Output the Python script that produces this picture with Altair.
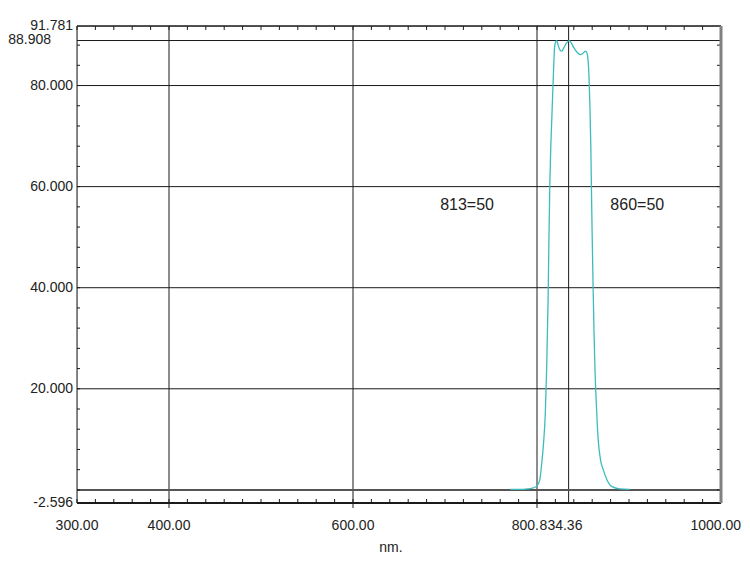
import altair as alt
import pandas as pd

# ---- data ----
wl = [771, 780, 790, 796, 800, 803, 805, 807, 809, 810.5, 812, 813, 814, 815, 816, 817, 818, 819, 820,
      821.5, 823, 825, 827, 829, 832, 835, 837, 840, 844, 847, 850, 853, 854.5, 855.5, 856.5, 857.5,
      858.5, 859.3, 860, 861, 862, 863, 864.5, 866.5, 869, 872, 876, 881, 890, 901]
trans = [0.1, 0.1, 0.2, 0.4, 0.8, 2, 5, 9, 15, 24, 37, 50, 61, 68, 73, 78, 83, 87.3, 88.5,
         88.9, 88.0, 87.0, 86.8, 87.4, 88.4, 88.9, 88.5, 87.5, 86.5, 86.1, 86.4, 86.8, 86.3, 85.0, 82, 76,
         68, 58, 50, 40, 31, 24, 17, 10, 6, 4, 2, 0.7, 0.2, 0.1]

x_min, x_max = 300, 1000
y_min, y_max = -2.596, 91.781

v_grid = [400, 600, 800, 834.36]
v_grid_ext = [400, 600, 800]
h_grid = [88.908, 80, 60, 40, 20]
zero_line = [0]
x_minor = list(range(300, 1001, 20))
y_minor = list(range(0, 89, 4))

y_lab_vals = [91.781, 80, 60, 40, 20, -2.596]
y_lab_text = ["91.781", "80.000", "60.000", "40.000", "20.000", "-2.596"]
y_lab2_vals = [88.908]
y_lab2_text = ["88.908"]

x_lab_vals = [300, 400, 600]
x_lab_text = ["300.00", "400.00", "600.00"]
x_labL_vals = [800]
x_labL_text = ["800."]
x_labR_vals = [834.36]
x_labR_text = ["834.36"]
x_labEnd_vals = [1000]
x_labEnd_text = ["1000.00"]

ann_x = [724, 909]
ann_y = [56.4, 56.4]
ann_text = ["813=50", "860=50"]

W, H = 644, 477
FONT = "Liberation Sans, Arial, sans-serif"

xs = alt.Scale(domain=[x_min, x_max], nice=False, zero=False)
ys = alt.Scale(domain=[y_min, y_max], nice=False, zero=False)
X = lambda f: alt.X(f, type="quantitative", scale=xs, axis=None)
Y = lambda f: alt.Y(f, type="quantitative", scale=ys, axis=None)

curve = pd.DataFrame({"wl": wl, "t": trans})

vg = alt.Chart(pd.DataFrame({"x": v_grid})).mark_rule(color="#1a1a1a", strokeWidth=1).encode(
    x=X("x"), y=alt.value(0), y2=alt.value(H))
vg_ext = alt.Chart(pd.DataFrame({"x": v_grid_ext})).mark_rule(color="#1a1a1a", strokeWidth=1).encode(
    x=X("x"), y=alt.value(H), y2=alt.value(H + 5))
hg = alt.Chart(pd.DataFrame({"y": h_grid})).mark_rule(color="#1a1a1a", strokeWidth=1).encode(
    y=Y("y"), x=alt.value(0), x2=alt.value(W))
zl = alt.Chart(pd.DataFrame({"y": zero_line})).mark_rule(color="#555555", strokeWidth=2).encode(
    y=Y("y"), x=alt.value(0), x2=alt.value(W))

xt_bot = alt.Chart(pd.DataFrame({"x": x_minor})).mark_rule(color="#1a1a1a").encode(
    x=X("x"), y=alt.value(H - 4), y2=alt.value(H))
xt_top = alt.Chart(pd.DataFrame({"x": x_minor})).mark_rule(color="#1a1a1a").encode(
    x=X("x"), y=alt.value(0), y2=alt.value(4))
yt_l = alt.Chart(pd.DataFrame({"y": y_minor})).mark_rule(color="#1a1a1a").encode(
    y=Y("y"), x=alt.value(0), x2=alt.value(3))
yt_r = alt.Chart(pd.DataFrame({"y": y_minor})).mark_rule(color="#1a1a1a").encode(
    y=Y("y"), x=alt.value(W - 4), x2=alt.value(W))

line = alt.Chart(curve).mark_line(color="#3cbcbc", strokeWidth=1.3, interpolate="monotone").encode(
    x=X("wl"), y=Y("t"))

# frame
f_left = alt.Chart(pd.DataFrame({"a": [0]})).mark_rule(color="#1a1a1a", strokeWidth=1).encode(
    x=alt.value(0), y=alt.value(0), y2=alt.value(H))
f_top = alt.Chart(pd.DataFrame({"a": [0]})).mark_rule(color="#1a1a1a", strokeWidth=1.5).encode(
    y=alt.value(0), x=alt.value(0), x2=alt.value(W))
f_bot = alt.Chart(pd.DataFrame({"a": [0]})).mark_rule(color="#1a1a1a", strokeWidth=2).encode(
    y=alt.value(H), x=alt.value(0), x2=alt.value(W))
f_right = alt.Chart(pd.DataFrame({"a": [0]})).mark_rule(color="#808080", strokeWidth=3).encode(
    x=alt.value(W), y=alt.value(0), y2=alt.value(H))

txt = dict(font=FONT, fontSize=14, color="#222222", baseline="middle")

ylab = alt.Chart(pd.DataFrame({"y": y_lab_vals, "t": y_lab_text})).mark_text(align="right", **txt).encode(
    y=Y("y"), x=alt.value(-4), text="t:N")
ylab2 = alt.Chart(pd.DataFrame({"y": y_lab2_vals, "t": y_lab2_text})).mark_text(align="right", dy=-1, **txt).encode(
    y=Y("y"), x=alt.value(-26), text="t:N")

xlab = alt.Chart(pd.DataFrame({"x": x_lab_vals, "t": x_lab_text})).mark_text(align="center", **txt).encode(
    x=X("x"), y=alt.value(H + 23), text="t:N")
xlabL = alt.Chart(pd.DataFrame({"x": x_labL_vals, "t": x_labL_text})).mark_text(align="right", dx=2, **txt).encode(
    x=X("x"), y=alt.value(H + 23), text="t:N")
xlabR = alt.Chart(pd.DataFrame({"x": x_labR_vals, "t": x_labR_text})).mark_text(align="left", dx=-29, **txt).encode(
    x=X("x"), y=alt.value(H + 23), text="t:N")
xlabEnd = alt.Chart(pd.DataFrame({"x": x_labEnd_vals, "t": x_labEnd_text})).mark_text(align="right", dx=20, **txt).encode(
    x=X("x"), y=alt.value(H + 23), text="t:N")

xtitle = alt.Chart(pd.DataFrame({"t": ["nm."]})).mark_text(align="center", **txt).encode(
    x=alt.value(314), y=alt.value(H + 45), text="t:N")

ann = alt.Chart(pd.DataFrame({"x": ann_x, "y": ann_y, "t": ann_text})).mark_text(
    align="center", **{**txt, "fontSize": 16}).encode(x=X("x"), y=Y("y"), text="t:N")

chart = alt.layer(
    vg, vg_ext, hg, zl, xt_bot, xt_top, yt_l, yt_r, line,
    f_left, f_top, f_bot, f_right,
    ylab, ylab2, xlab, xlabL, xlabR, xlabEnd, xtitle, ann,
).properties(
    width=W, height=H,
    autosize=alt.AutoSizeParams(type="none"),
    padding={"left": 69, "top": 18, "right": 21, "bottom": 52},
).configure_view(stroke=None).configure(background="white")

chart.save("out.html", embed_options={"renderer": "svg", "actions": False})
